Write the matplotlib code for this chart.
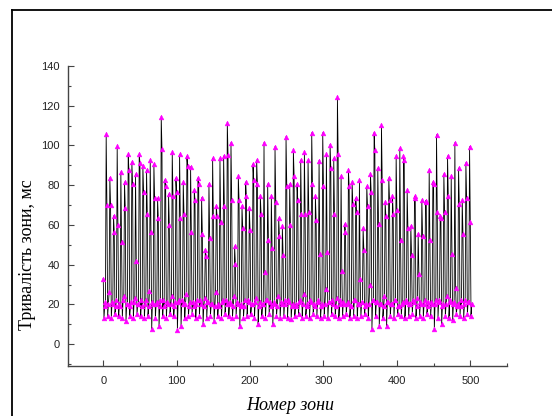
import numpy as np
import matplotlib
matplotlib.use('Agg')
import matplotlib.pyplot as plt
from matplotlib.lines import Line2D
from matplotlib.ticker import MultipleLocator

# перша точка ряду
first_value = 33

# піки (по одному на кожні 5 зон) і друге значення після піку
peaks = [105.6, 83.7, 64.6, 99.5, 86.6, 81.6, 95.5, 91.6, 85.6, 95.5,
         89.5, 87.6, 92.6, 90.6, 73.5, 114.5, 82.6, 75.5, 96.5, 83.6,
         95.5, 81.4, 94.5, 89.3, 77.5, 83.6, 73.7, 47.5, 80.6, 93.5,
         69.5, 93.5, 94.7, 111.4, 101.4, 49.3, 84.6, 69.5, 81.6, 68.5,
         90.6, 92.6, 74.4, 101.4, 80.6, 74.4, 99.4, 63.4, 59.4, 104.4,
         80.6, 97.5, 80.6, 92.6, 96.5, 92.6, 106.4, 74.4, 92.4, 106.4,
         95.5, 100.4, 93.5, 124.5, 84.6, 60.4, 87.6, 81.6, 73.5, 82.6,
         58.4, 79.4, 85.6, 106.4, 88.5, 110.4, 71.5, 83.6, 74.4, 94.7,
         98.5, 94.7, 77.5, 59.4, 74.4, 55.6, 72.5, 72.2, 87.6, 81.6,
         105.4, 64.5, 85.6, 94.7, 84.6, 101.4, 88.6, 72.5, 91.3, 99.4]
after_peak = [70, 70, 56.6, 59.8, 51.5, 68.6, 87.5, 80.4, 41.6, 91.3,
              76.5, 65.5, 56.6, 73.5, 63.4, 98.3, 79.4, 60, 74.4, 76.4,
              63.4, 65.5, 89.7, 56.6, 72.5, 80.4, 55.6, 44.3, 53.4, 64.6,
              64.6, 61.6, 69.5, 95, 72.5, 40.4, 72.5, 58.4, 74.4, 57.4,
              82.6, 80.6, 65.5, 36.3, 52.4, 48.5, 71.5, 54.5, 45, 79.4,
              60, 84.6, 72.5, 65.5, 65.5, 66.6, 80.6, 62.4, 45.4, 79.6,
              46.6, 88.5, 65.5, 95.5, 36.6, 56.5, 79.4, 70.5, 66.6, 33,
              47.3, 69.5, 76.5, 97.5, 60.4, 82.6, 64.5, 72.5, 65.5, 67.6,
              52.4, 92.6, 58.4, 45, 73.5, 35.2, 54.5, 71.5, 52.4, 80.6,
              66.6, 63.4, 66.6, 74.4, 45.4, 28.2, 70.5, 55.6, 73.5, 61.6]
# короткі зони
low = [13, 14, 13, 15, 14, 13, 11.5, 14, 13, 15,
       14, 13, 14, 7.5, 13, 9, 14, 13, 15, 14,
       7, 9, 13, 14, 15, 13, 14, 10, 13, 14,
       11.5, 14, 13, 15, 14, 13, 14, 9, 13, 14,
       15, 13, 10, 14, 13, 15, 10, 14, 13, 14,
       13, 12.5, 14, 15, 13, 14, 13, 15, 14, 13,
       14, 13, 15, 14, 13, 14, 15, 13, 14, 13,
       14, 15, 13, 7.5, 14, 9, 13, 9, 14, 13,
       15, 14, 13, 14, 15, 13, 14, 13, 15, 14,
       7.5, 13, 10, 14, 13, 12, 15, 14, 13, 15,
       14]
mid = [19, 20, 21, 19, 20, 22, 20, 19, 21, 20,
       22, 20, 19, 21, 20, 19, 22, 21, 20, 19,
       21, 22, 20, 19, 21, 20, 22, 19, 21, 20,
       19, 20, 21, 22, 20, 19, 21, 20, 19, 22,
       20, 21, 19, 20, 22, 21, 20, 19, 21, 20,
       22, 19, 20, 21, 20, 19, 22, 20, 21, 19,
       20, 21, 22, 19, 20, 21, 20, 19, 22, 20,
       21, 19, 20, 22, 21, 20, 19, 21, 20, 22,
       19, 20, 21, 20, 22, 19, 21, 20, 19, 21,
       20, 22, 19, 20, 21, 20, 19, 22, 20, 21,
       20]
mid2 = [21, 26, 20, 22, 19, 24, 20, 21, 23, 20,
        19, 22, 27, 20, 21, 22, 19, 20, 24, 21,
        22, 20, 25, 21, 19, 22, 20, 23, 21, 20,
        26, 19, 22, 20, 21, 24, 20, 19, 22, 21,
        20, 23, 21, 20, 22, 19, 21, 24, 20, 22,
        21, 20, 19, 22, 25, 20, 21, 19, 22, 20,
        28, 21, 20, 23, 22, 20, 21, 19, 22, 20,
        21, 20, 30, 22, 21, 20, 24, 21, 20, 22,
        19, 21, 22, 20, 21, 23, 20, 22, 21, 20,
        22, 21, 20, 24, 22, 21, 20, 19, 22, 21]

# збираємо ряд: перша точка, потім цикли по 5 зон
series = [first_value]
for i in range(len(peaks)):
    series += [low[i], mid[i], mid2[i], peaks[i], after_peak[i]]
series += [low[-1], mid[-1]]
zones = np.arange(len(series))

fig = plt.figure(figsize=(5.52, 4.16), dpi=100)
ax = fig.add_axes([68 / 552, 50 / 416, 439 / 552, 300 / 416])

ax.plot(zones, series, color='black', linewidth=0.6,
        marker='^', markersize=3.4, markerfacecolor='#ff00ff',
        markeredgecolor='#ff00ff', markeredgewidth=0.4)

ax.set_xlim(-48, 550)
ax.set_ylim(-11, 140)
ax.xaxis.set_major_locator(MultipleLocator(100))
ax.xaxis.set_minor_locator(MultipleLocator(50))
ax.yaxis.set_major_locator(MultipleLocator(20))
ax.yaxis.set_minor_locator(MultipleLocator(10))
ax.tick_params(which='both', direction='in', colors='#444444', labelcolor='#222222',
               labelsize=8)
ax.tick_params(which='major', length=4, width=0.8)
ax.tick_params(which='minor', length=2, width=0.8)
for lab in ax.get_xticklabels() + ax.get_yticklabels():
    lab.set_family('Liberation Sans')
ax.tick_params(axis='x', pad=7)
ax.tick_params(axis='y', pad=6)

ax.spines['top'].set_visible(False)
ax.spines['right'].set_visible(False)
for s in ['left', 'bottom']:
    ax.spines[s].set_color('#444444')
    ax.spines[s].set_linewidth(1.0)

fig.text(28 / 552, 1 - 255 / 416, 'Тривалість зони, мс', rotation=90,
         ha='center', va='center', fontsize=13, family='Liberation Serif')
fig.text(290 / 552, 1 - 405 / 416, 'Номер зони', ha='center', va='center',
         fontsize=13, family='Liberation Serif', style='italic')

# рамка навколо рисунка (права і нижня сторони обрізані)
fig.add_artist(Line2D([12 / 552, 12 / 552], [0, 1 - 10 / 416], color='black', linewidth=1.3))
fig.add_artist(Line2D([12 / 552, 1], [1 - 10 / 416, 1 - 10 / 416], color='black', linewidth=1.3))

fig.savefig('out.png', dpi=100)
